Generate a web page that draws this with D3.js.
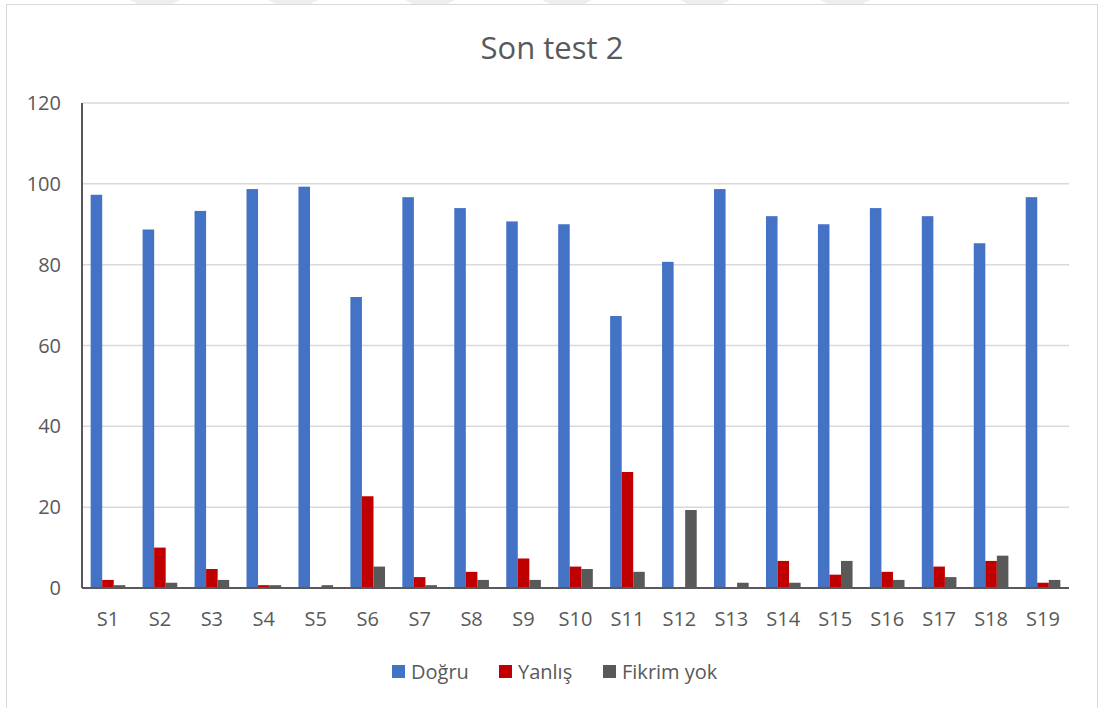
<!DOCTYPE html>
<html>
<head>
<meta charset="utf-8">
<script src="https://cdn.jsdelivr.net/npm/d3@7/dist/d3.min.js"></script>
<style>
  body { margin: 0; background: #fff; }
  text { font-family: "Open Sans", "Noto Sans", sans-serif; fill: #595959; }
</style>
</head>
<body>
<div id="chart"></div>
<script>
// define data
var categories = ["S1","S2","S3","S4","S5","S6","S7","S8","S9","S10",
                  "S11","S12","S13","S14","S15","S16","S17","S18","S19"];
var seriesNames = ["Doğru", "Yanlış", "Fikrim yok"];
var dogru   = [97.3, 88.7, 93.3, 98.7, 99.3, 72, 96.7, 94, 90.7, 90, 67.3, 80.7, 98.7, 92, 90, 94, 92, 85.3, 96.7];
var yanlis  = [2, 10, 4.7, 0.7, 0, 22.7, 2.7, 4, 7.3, 5.3, 28.7, 0, 0, 6.7, 3.3, 4, 5.3, 6.7, 1.3];
var fikrim  = [0.7, 1.3, 2, 0.7, 0.7, 5.3, 0.7, 2, 2, 4.7, 4, 19.3, 1.3, 1.3, 6.7, 2, 2.7, 8, 2];
var yTicks = [0, 20, 40, 60, 80, 100, 120];
var colors = ["#4472c4", "#c00000", "#595959"];

var series = [dogru, yanlis, fikrim];

// chart dimensions
var width = 1099;
var height = 708;
var margin = {top: 103, right: 30, bottom: 120, left: 82};

var svg = d3.select('#chart')
  .append('svg')
  .attr('width', width)
  .attr('height', height);

// faint watermark strips at the very top
var strips = [130, 268, 405, 542, 680, 820];
svg.selectAll('.strip')
  .data(strips)
  .enter()
  .append('path')
  .attr('d', function(d) { return 'M' + d + ',0 L' + (d + 50) + ',0 L' + (d + 42) + ',4 L' + (d + 8) + ',4 Z'; })
  .style('fill', '#eeeeee');

// chart border
svg.append('rect')
  .attr('x', 6.5).attr('y', 4.5)
  .attr('width', 1091).attr('height', 710)
  .style('fill', 'none')
  .style('stroke', '#d9d9d9');

var x = d3.scaleBand()
  .domain(categories)
  .range([margin.left, 1069])
  .paddingInner(1 / 3)
  .paddingOuter(1 / 6);

var xSub = d3.scaleBand()
  .domain(d3.range(series.length))
  .range([0, x.bandwidth()]);

var y = d3.scaleLinear()
  .domain([0, 120])
  .range([588, margin.top]);

// gridlines
svg.append('g')
  .selectAll('line')
  .data(yTicks.slice(1))
  .enter()
  .append('line')
  .attr('x1', margin.left).attr('x2', 1069)
  .attr('y1', function(d) { return y(d); })
  .attr('y2', function(d) { return y(d); })
  .style('stroke', '#d9d9d9')
  .style('stroke-width', 1.5);

// y tick labels
svg.append('g')
  .selectAll('text')
  .data(yTicks)
  .enter()
  .append('text')
  .attr('x', 61)
  .attr('y', function(d) { return y(d); })
  .attr('dy', '0.35em')
  .attr('text-anchor', 'end')
  .style('font-size', '20px')
  .text(function(d) { return d; });

// bars
var groups = svg.append('g')
  .selectAll('g')
  .data(categories)
  .enter()
  .append('g')
  .attr('transform', function(d) { return 'translate(' + x(d) + ',0)'; });

groups.selectAll('rect')
  .data(function(d, i) { return series.map(function(s, k) { return {k: k, value: s[i]}; }); })
  .enter()
  .append('rect')
  .attr('x', function(d) { return xSub(d.k); })
  .attr('width', xSub.bandwidth())
  .attr('y', function(d) { return y(d.value); })
  .attr('height', function(d) { return y(0) - y(d.value); })
  .style('fill', function(d) { return colors[d.k]; });

// axis lines
svg.append('line')
  .attr('x1', margin.left).attr('x2', margin.left)
  .attr('y1', y(120)).attr('y2', y(0))
  .style('stroke', '#595959').style('stroke-width', 2);
svg.append('line')
  .attr('x1', margin.left).attr('x2', 1069)
  .attr('y1', y(0)).attr('y2', y(0))
  .style('stroke', '#595959').style('stroke-width', 2);

// category labels
svg.append('g')
  .selectAll('text')
  .data(categories)
  .enter()
  .append('text')
  .attr('x', function(d) { return x(d) + x.bandwidth() / 2; })
  .attr('y', 619)
  .attr('dy', '0.35em')
  .attr('text-anchor', 'middle')
  .style('font-size', '20px')
  .text(function(d) { return d; });

// title
svg.append('text')
  .attr('x', 552)
  .attr('y', 48)
  .attr('dy', '0.35em')
  .attr('text-anchor', 'middle')
  .style('font-size', '31px')
  .text('Son test 2');

// legend
var legendX = [392, 499, 603];
var legend = svg.selectAll('.legend')
  .data(seriesNames)
  .enter()
  .append('g')
  .attr('class', 'legend')
  .attr('transform', function(d, i) { return 'translate(' + legendX[i] + ',665)'; });

legend.append('rect')
  .attr('width', 13)
  .attr('height', 13)
  .style('fill', function(d, i) { return colors[i]; });

legend.append('text')
  .attr('x', 19)
  .attr('y', 7)
  .attr('dy', '0.35em')
  .style('font-size', '20px')
  .text(function(d) { return d; });
</script>
</body>
</html>
